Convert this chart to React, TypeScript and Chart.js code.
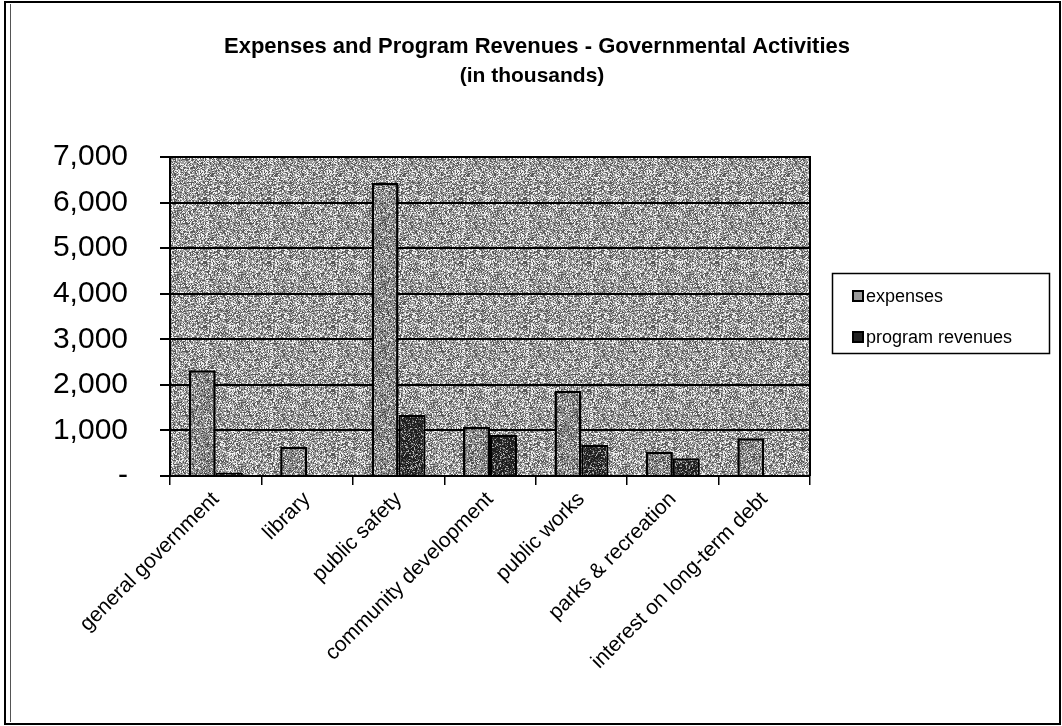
import React, { useEffect, useRef } from "react";
import { Chart, registerables } from "chart.js";

Chart.register(...registerables);

const categories = [
  "general government",
  "library",
  "public safety",
  "community development",
  "public works",
  "parks & recreation",
  "interest on long-term debt",
];
const expenses = [2320, 640, 6430, 1080, 1870, 530, 830];
const programRevenues = [70, 20, 1340, 900, 680, 390, 0];
const seriesLabels = ["expenses", "program revenues"];
const yMin = 0;
const yMax = 7000;
const yStep = 1000;
const titleText = "Expenses and Program Revenues - Governmental Activities";
const subtitleText = "(in thousands)";

const FONT = '"Liberation Sans", Arial, Helvetica, sans-serif';

function hash(x: number, y: number, seed: number): number {
  let h = (Math.imul(x, 374761393) + Math.imul(y, 668265263) + Math.imul(seed, 982451653)) | 0;
  h = Math.imul(h ^ (h >>> 13), 1274126177);
  h ^= h >>> 16;
  return (h >>> 0) / 4294967296;
}

function makePattern(
  ctx: CanvasRenderingContext2D,
  stops: [number, string][],
  seed: number
): CanvasPattern | string {
  const size = 64;
  const c = document.createElement("canvas");
  c.width = size;
  c.height = size;
  const g = c.getContext("2d");
  if (!g) return stops[0][1];
  for (let y = 0; y < size; y++) {
    for (let x = 0; x < size; x++) {
      const r = hash(x, y, seed);
      let acc = 0;
      let col = stops[stops.length - 1][1];
      for (const [p, cc] of stops) {
        acc += p;
        if (r < acc) {
          col = cc;
          break;
        }
      }
      g.fillStyle = col;
      g.fillRect(x, y, 1, 1);
    }
  }
  return ctx.createPattern(c, "repeat") || stops[0][1];
}

export default function App() {
  const ref = useRef<HTMLCanvasElement | null>(null);

  useEffect(() => {
    const canvas = ref.current;
    if (!canvas) return;
    const ctx = canvas.getContext("2d");
    if (!ctx) return;

    const bgPattern = makePattern(
      ctx,
      [
        [0.45, "#9c9c9c"],
        [0.27, "#f0f0f0"],
        [0.28, "#585858"],
      ],
      1
    );
    const expPattern = makePattern(
      ctx,
      [
        [0.55, "#8e8e8e"],
        [0.2, "#e4e4e4"],
        [0.25, "#4a4a4a"],
      ],
      2
    );
    const revPattern = makePattern(
      ctx,
      [
        [0.6, "#1e1e1e"],
        [0.25, "#505050"],
        [0.15, "#b0b0b0"],
      ],
      3
    );

    const decorPlugin = {
      id: "decor",
      beforeDraw(chart: any) {
        const { ctx: c, chartArea: a } = chart;
        c.save();
        c.fillStyle = "#ffffff";
        c.fillRect(0, 0, chart.width, chart.height);
        c.fillStyle = bgPattern as any;
        c.fillRect(a.left, a.top, a.right - a.left, a.bottom - a.top);
        c.restore();
      },
      afterDraw(chart: any) {
        const { ctx: c, chartArea: a } = chart;
        c.save();
        c.strokeStyle = "#000";
        c.lineWidth = 2;
        c.beginPath();
        c.moveTo(a.left, a.top);
        c.lineTo(a.right, a.top);
        c.lineTo(a.right, a.bottom);
        c.stroke();

        c.fillStyle = "#000";
        c.textAlign = "center";
        c.textBaseline = "middle";
        c.font = `bold 22px ${FONT}`;
        c.fillText(titleText, 537, 47);
        c.font = `bold 21px ${FONT}`;
        c.fillText(subtitleText, 532, 76);

        c.strokeStyle = "#000";
        c.lineWidth = 1.5;
        c.strokeRect(832.5, 273.5, 217, 80);
        c.font = `18px ${FONT}`;
        c.textAlign = "left";
        const items = [
          { label: seriesLabels[0], y: 296, fill: "#9a9a9a" },
          { label: seriesLabels[1], y: 337, fill: "#222" },
        ];
        for (const it of items) {
          c.fillStyle = "#000";
          c.fillRect(852, it.y - 6, 12, 12);
          c.fillStyle = it.fill;
          c.fillRect(854, it.y - 4, 8, 8);
          c.fillStyle = "#000";
          c.fillText(it.label, 866, it.y + 1);
        }

        c.lineWidth = 2;
        c.strokeRect(5, 2, 1055, 722);
        c.lineWidth = 1;
        c.strokeStyle = "#555";
        c.beginPath();
        c.moveTo(10.5, 4);
        c.lineTo(10.5, 722);
        c.stroke();
        c.restore();
      },
    };

    const chart = new Chart(ctx, {
      type: "bar",
      data: {
        labels: categories,
        datasets: [
          {
            label: seriesLabels[0],
            data: expenses,
            backgroundColor: expPattern as any,
            borderColor: "#000",
            borderWidth: 2.5,
            categoryPercentage: 0.59,
            barPercentage: 1,
          },
          {
            label: seriesLabels[1],
            data: programRevenues,
            backgroundColor: revPattern as any,
            borderColor: "#000",
            borderWidth: 2,
            categoryPercentage: 0.59,
            barPercentage: 1,
          },
        ],
      },
      options: {
        responsive: false,
        animation: false,
        events: [],
        layout: { padding: { left: 0, right: 252, top: 157, bottom: 0 } },
        plugins: {
          legend: { display: false },
          title: { display: false },
          tooltip: { enabled: false },
        },
        scales: {
          x: {
            grid: {
              offset: true,
              drawOnChartArea: false,
              drawTicks: true,
              tickLength: 9,
              color: "#000",
              lineWidth: 1.5,
            },
            border: { display: true, color: "#000", width: 2 },
            ticks: {
              minRotation: 45,
              maxRotation: 45,
              autoSkip: false,
              color: "#000",
              padding: 2,
              font: { family: FONT, size: 21 },
            },
            afterFit: (s: any) => {
              s.height = 250;
            },
          },
          y: {
            min: yMin,
            max: yMax,
            grid: {
              color: "#000",
              lineWidth: 2,
              drawTicks: true,
              tickLength: 10,
            },
            border: { display: true, color: "#000", width: 2 },
            ticks: {
              stepSize: yStep,
              color: "#000",
              padding: 32,
              font: { family: FONT, size: 30 },
              callback: (v: any) =>
                Number(v) === 0 ? "-" : Number(v).toLocaleString("en-US"),
            },
            afterFit: (s: any) => {
              s.width = 170;
            },
          },
        },
      },
      plugins: [decorPlugin],
    });

    return () => {
      chart.destroy();
    };
  }, []);

  return (
    <div
      style={{
        position: "absolute",
        left: 0,
        top: 0,
        width: 1062,
        height: 726,
        background: "#fff",
      }}
    >
      <canvas ref={ref} width={1062} height={726} style={{ display: "block" }} />
    </div>
  );
}
